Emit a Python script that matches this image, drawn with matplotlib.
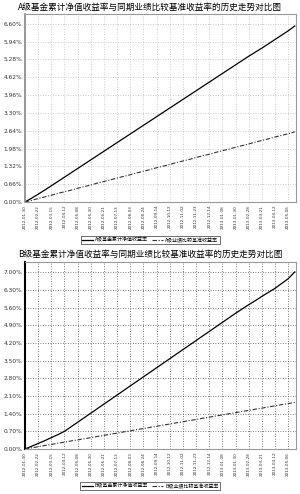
import numpy as np
import matplotlib
matplotlib.use('Agg')
import matplotlib.pyplot as plt

plt.rcParams['font.family'] = ['Noto Sans CJK SC', 'DejaVu Sans']

# tick dates (same for both panels)
dates = ['2012-01-30', '2012-02-22', '2012-03-15', '2012-04-12', '2012-05-08',
         '2012-05-30', '2012-06-21', '2012-07-13', '2012-08-03', '2012-08-24',
         '2012-09-14', '2012-10-12', '2012-11-02', '2012-11-23', '2012-12-14',
         '2013-01-08', '2013-01-30', '2013-02-28', '2013-03-21', '2013-04-12',
         '2013-05-06']

# values sampled every half tick interval (%)
a_fund = [0.00, 0.14, 0.29, 0.44, 0.60, 0.76, 0.92, 1.08, 1.24, 1.40, 1.56, 1.72,
          1.88, 2.04, 2.20, 2.36, 2.52, 2.68, 2.84, 3.00, 3.16, 3.32, 3.48, 3.64,
          3.80, 3.96, 4.12, 4.28, 4.44, 4.60, 4.76, 4.92, 5.08, 5.24, 5.40, 5.55,
          5.70, 5.86, 6.02, 6.18, 6.34, 6.52]
a_bench = [0.00, 0.06, 0.13, 0.19, 0.25, 0.32, 0.38, 0.44, 0.51, 0.57, 0.63, 0.70,
           0.76, 0.82, 0.89, 0.95, 1.01, 1.08, 1.14, 1.20, 1.27, 1.33, 1.39, 1.46,
           1.52, 1.58, 1.65, 1.71, 1.77, 1.84, 1.90, 1.96, 2.03, 2.09, 2.15, 2.22,
           2.28, 2.34, 2.41, 2.47, 2.53, 2.60]
b_fund = [0.00, 0.11, 0.22, 0.33, 0.45, 0.57, 0.70, 0.88, 1.06, 1.24, 1.42, 1.60,
          1.78, 1.96, 2.14, 2.32, 2.50, 2.68, 2.86, 3.04, 3.22, 3.40, 3.58, 3.76,
          3.94, 4.12, 4.30, 4.48, 4.66, 4.84, 5.02, 5.20, 5.38, 5.55, 5.72, 5.88,
          6.05, 6.21, 6.37, 6.56, 6.75, 7.02]
b_bench = [0.00, 0.05, 0.09, 0.14, 0.18, 0.23, 0.27, 0.32, 0.36, 0.41, 0.45, 0.50,
           0.54, 0.59, 0.63, 0.68, 0.72, 0.77, 0.81, 0.86, 0.90, 0.95, 0.99, 1.04,
           1.08, 1.13, 1.17, 1.22, 1.26, 1.31, 1.35, 1.40, 1.44, 1.49, 1.53, 1.58,
           1.62, 1.67, 1.71, 1.76, 1.80, 1.85]

a_ticks = [0.00, 0.66, 1.32, 1.98, 2.64, 3.30, 3.96, 4.62, 5.28, 5.94, 6.60]
b_ticks = [0.00, 0.70, 1.40, 2.10, 2.80, 3.50, 4.20, 4.90, 5.60, 6.30, 7.00]

x = np.arange(len(a_fund)) * 0.5

fig = plt.figure(figsize=(3.0, 4.94), dpi=100)

def panel(rect, fund, bench, yt, ymax, title, labels, ty, ly, gridc, leftc, leftw):
    ax = fig.add_axes(rect)
    ax.plot(x, fund, color='black', lw=0.9)
    ax.plot(x, bench, color='#333333', lw=0.8, dashes=(4, 1.5, 1, 1.5))
    ax.set_xlim(0, 20.6)
    ax.set_ylim(0, ymax)
    ax.set_yticks(yt)
    ax.set_yticklabels(['%.2f%%' % v for v in yt], fontsize=4.2, family='DejaVu Sans',
                       color='#333333')
    ax.set_xticks(np.arange(len(dates)))
    ax.set_xticklabels(dates, rotation=90, fontsize=3.0, family='DejaVu Sans',
                       color='#333333')
    ax.tick_params(length=0, pad=2)
    ax.grid(True, color=gridc, ls=(0, (1, 2)), lw=0.6)
    for s in ['top', 'right', 'bottom']:
        ax.spines[s].set_color('#999999')
        ax.spines[s].set_linewidth(0.8)
    ax.spines['left'].set_color(leftc)
    ax.spines['left'].set_linewidth(leftw)
    fig.text(0.5, ty, title, ha='center', va='center', fontsize=6.2)
    leg = fig.legend(ax.get_lines(), labels, loc='center', bbox_to_anchor=(0.5, ly),
                     ncol=2, fontsize=3.6, frameon=True, fancybox=False,
                     handlelength=2.2, handletextpad=0.4, columnspacing=0.8,
                     borderpad=0.3, edgecolor='black')
    leg.get_frame().set_linewidth(0.5)
    return ax

panel([0.083, 0.591, 0.904, 0.381], a_fund, a_bench, a_ticks, 6.97,
      'A级基金累计净值收益率与同期业绩比较基准收益率的历史走势对比图',
      ['A级基金累计净值收益率', 'A级业绩比较基准收益率'],
      0.986, 0.514, '#bbbbbb', '#888888', 1.2)
panel([0.083, 0.091, 0.904, 0.378], b_fund, b_bench, b_ticks, 7.4,
      'B级基金累计净值收益率与同期业绩比较基准收益率的历史走势对比图',
      ['B级基金累计净值收益率', 'B级业绩比较基准收益率'],
      0.486, 0.016, '#555555', 'black', 1.5)

fig.savefig('out.png', dpi=100)
